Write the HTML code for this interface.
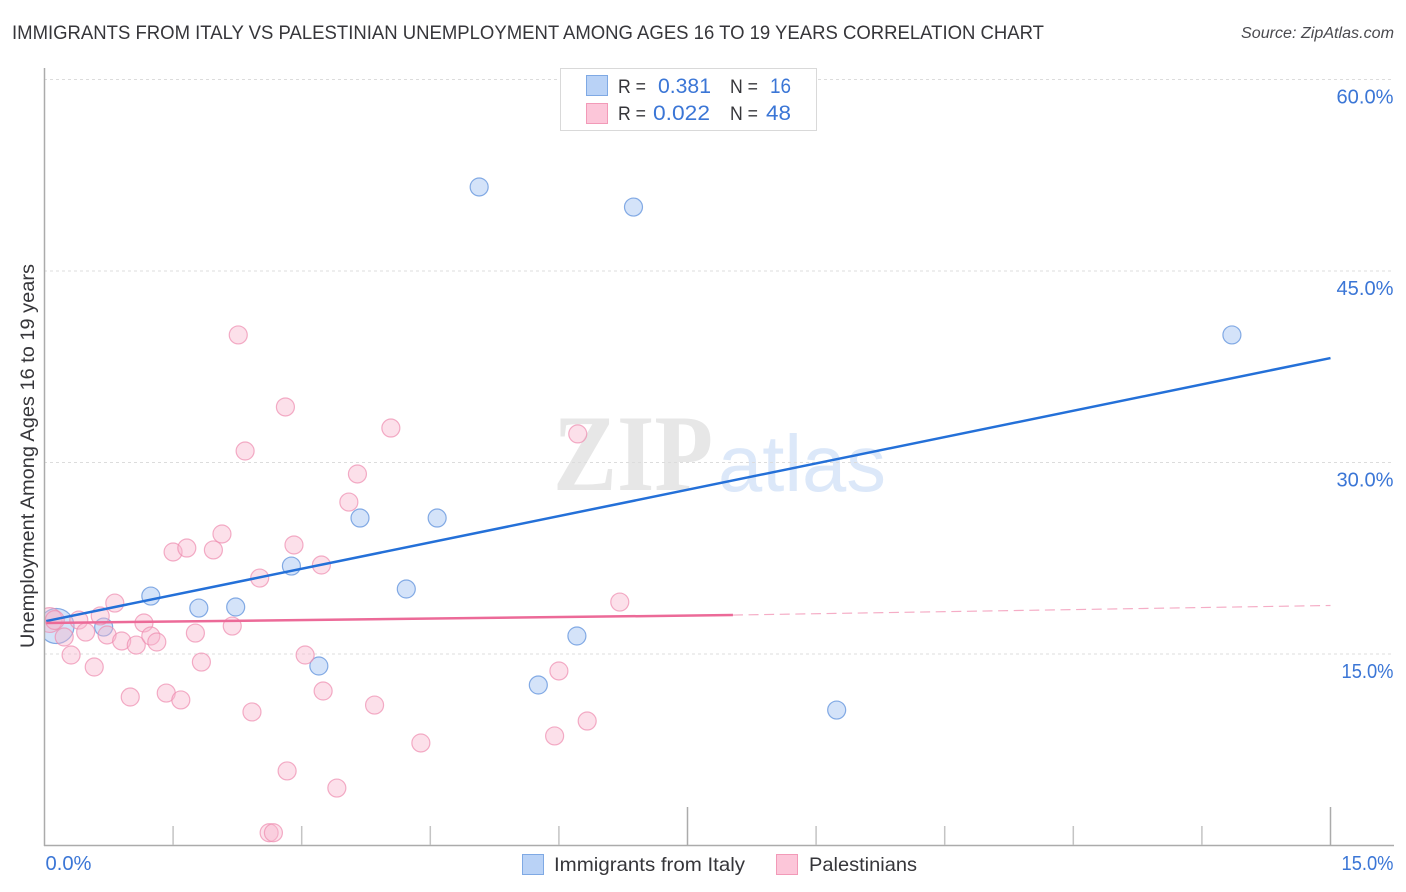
<!DOCTYPE html>
<html lang="en">
<head>
<meta charset="utf-8">
<title>Immigrants from Italy vs Palestinian Unemployment Correlation Chart</title>
<style>
html,body{margin:0;padding:0;background:#fff;width:1406px;height:892px;overflow:hidden}
svg{display:block;font-family:"Liberation Sans",sans-serif}
</style>
</head>
<body>
<svg id="chart" width="1406" height="892" viewBox="0 0 1406 892">
  <defs>
    <clipPath id="plot-clip"><rect x="44" y="60" width="1350" height="786"/></clipPath>
  </defs>
  <text x="12" y="39" font-size="19.5" fill="#36363a" textLength="1032" lengthAdjust="spacingAndGlyphs">IMMIGRANTS FROM ITALY VS PALESTINIAN UNEMPLOYMENT AMONG AGES 16 TO 19 YEARS CORRELATION CHART</text>
  <text x="1241" y="38" font-size="15.5" font-style="italic" fill="#4a4a4f" textLength="153" lengthAdjust="spacingAndGlyphs">Source: ZipAtlas.com</text>

  <g>
    <text x="553" y="490" font-family="'Liberation Serif',serif" font-weight="bold" font-size="109" fill="#e7e7e7" textLength="160" lengthAdjust="spacingAndGlyphs">ZIP</text>
    <text x="718" y="491" font-size="80" fill="#dce8f9" textLength="168" lengthAdjust="spacingAndGlyphs">atlas</text>
  </g>

  <g id="grid"></g>
  <g id="ylabels"></g>
  <g id="points" clip-path="url(#plot-clip)"></g>
  <g id="trends"></g>
  <g id="axes"></g>

  <text transform="translate(34 456) rotate(-90)" font-size="19.5" fill="#36363a" text-anchor="middle" textLength="384" lengthAdjust="spacingAndGlyphs">Unemployment Among Ages 16 to 19 years</text>

  <g>
    <rect x="560.5" y="68.5" width="256" height="62" fill="#fff" stroke="#d9d9d9"/>
    <rect x="586.5" y="75.5" width="21" height="20" fill="#b9d2f6" stroke="#7fa9e4"/>
    <rect x="586.5" y="103.5" width="21" height="20" fill="#fcc6d9" stroke="#f29ab8"/>
    <text x="618" y="93" font-size="19" fill="#36363a" textLength="28" lengthAdjust="spacingAndGlyphs">R =</text>
    <text x="658" y="93" font-size="21" fill="#3b76d6" textLength="53" lengthAdjust="spacingAndGlyphs">0.381</text>
    <text x="730" y="93" font-size="19" fill="#36363a" textLength="28" lengthAdjust="spacingAndGlyphs">N =</text>
    <text x="770" y="93" font-size="21" fill="#3b76d6" textLength="21" lengthAdjust="spacingAndGlyphs">16</text>
    <text x="618" y="120" font-size="19" fill="#36363a" textLength="28" lengthAdjust="spacingAndGlyphs">R =</text>
    <text x="653" y="120" font-size="21" fill="#3b76d6" textLength="57" lengthAdjust="spacingAndGlyphs">0.022</text>
    <text x="730" y="120" font-size="19" fill="#36363a" textLength="28" lengthAdjust="spacingAndGlyphs">N =</text>
    <text x="766" y="120" font-size="21" fill="#3b76d6" textLength="25" lengthAdjust="spacingAndGlyphs">48</text>
  </g>

  <g>
    <g>
      <rect x="522.5" y="854.5" width="21" height="20" fill="#b9d2f6" stroke="#7fa9e4"/>
      <text x="554" y="871" font-size="19.5" fill="#36363a" textLength="191" lengthAdjust="spacingAndGlyphs">Immigrants from Italy</text>
    </g>
    <g>
      <rect x="776.5" y="854.5" width="21" height="20" fill="#fcc6d9" stroke="#f29ab8"/>
      <text x="809" y="871" font-size="19.5" fill="#36363a" textLength="108" lengthAdjust="spacingAndGlyphs">Palestinians</text>
    </g>
  </g>
</svg>
<script>
const yTickValues = [15, 30, 45, 60];
const yTickLabels = ['15.0%', '30.0%', '45.0%', '60.0%'];
const xTickValues = [1.5, 3, 4.5, 6, 7.5, 9, 10.5, 12, 13.5, 15];
const xMajorTicks = [7.5, 15];
const xEndLabels = ['0.0%', '15.0%'];

const italyX = [0.14, 0.69, 1.24, 1.80, 2.23, 2.88, 3.20, 3.68, 4.22, 4.58, 5.07, 5.76, 6.21, 6.87, 9.24, 13.85];
const italyY = [17.19, 17.11, 19.54, 18.6, 18.68, 21.89, 14.06, 25.65, 20.09, 25.65, 51.58, 12.57, 16.41, 50.01, 10.61, 39.99];
const italyWeight = [3.8, 1, 1, 1, 1, 1, 1, 1, 1, 1, 1, 1, 1, 1, 1, 1];

const palestinianX = [0.06, 0.12, 0.23, 0.31, 0.40, 0.48, 0.58, 0.65, 0.73, 0.82, 0.90, 1.00, 1.07, 1.16, 1.24, 1.31, 1.42, 1.50, 1.59, 1.66, 1.76, 1.83, 1.97, 2.07, 2.19, 2.26, 2.34, 2.42, 2.51, 2.62, 2.67, 2.81, 2.83, 2.91, 3.04, 3.23, 3.25, 3.41, 3.55, 3.65, 3.85, 4.04, 4.39, 5.95, 6.00, 6.22, 6.33, 6.71];
const palestinianY = [17.66, 17.66, 16.33, 14.92, 17.66, 16.72, 13.98, 17.98, 16.49, 18.99, 16.02, 11.63, 15.7, 17.43, 16.41, 15.94, 11.94, 22.99, 11.40, 23.3, 16.64, 14.37, 23.15, 24.4, 17.19, 39.99, 30.9, 10.46, 20.95, 1.0, 1.0, 34.35, 5.84, 23.54, 14.92, 21.97, 12.1, 4.5, 26.9, 29.1, 11.0, 32.7, 8.03, 8.58, 13.67, 32.24, 9.75, 19.07];
const palestinianWeight = [1.9, 1.1];

const italyTrendX = [0.02, 15];
const italyTrendY = [17.58, 38.18];
const palestinianTrendX = [0.02, 8.03];
const palestinianTrendY = [17.43, 18.05];
const palestinianExtensionX = [8.03, 15];
const palestinianExtensionY = [18.05, 18.8];

const NS = 'http://www.w3.org/2000/svg';
const xScale = v => 44.5 + v * (1330.5 - 44.5) / 15;
const yScale = v => 845.5 - v * (845.5 - 79.5) / 60;
const baseRadius = 9;
const labelWidth = s => s.charAt(0) === '1' ? 52 : 57;

function make(parent, tag, attrs, text) {
  const el = document.createElementNS(NS, tag);
  for (const k in attrs) el.setAttribute(k, attrs[k]);
  if (text !== undefined) el.textContent = text;
  document.getElementById(parent).appendChild(el);
  return el;
}

yTickValues.forEach((v, i) => {
  const line = make('grid', 'line', {x1: 44, x2: 1394, y1: yScale(v), y2: yScale(v), stroke: '#dcdcdc', 'stroke-width': 1, 'stroke-dasharray': '3 3'});
  
  
  const w = labelWidth(yTickLabels[i]);
  const label = make('ylabels', 'text', {x: 1393.5 - w, y: yScale(v) + 24, 'font-size': 20, fill: '#3b76d6', textLength: w, lengthAdjust: 'spacingAndGlyphs'}, yTickLabels[i]);
  
  
});

italyX.forEach((v, i) => {
  const c = make('points', 'circle', {cx: xScale(v), cy: yScale(italyY[i]), r: baseRadius * Math.sqrt(italyWeight[i]), fill: 'rgba(170,200,243,0.5)', stroke: 'rgba(95,145,220,0.75)', 'stroke-width': 1.2});
  
  
});

palestinianX.forEach((v, i) => {
  const w = palestinianWeight[i] || 1;
  const c = make('points', 'circle', {cx: xScale(v), cy: yScale(palestinianY[i]), r: baseRadius * Math.sqrt(w), fill: 'rgba(248,180,205,0.42)', stroke: 'rgba(238,140,175,0.7)', 'stroke-width': 1.2});
  
  
});

const italyTrend = make('trends', 'line', {x1: xScale(italyTrendX[0]), y1: yScale(italyTrendY[0]), x2: xScale(italyTrendX[1]), y2: yScale(italyTrendY[1]), stroke: '#2470d8', 'stroke-width': 2.5});



const palTrend = make('trends', 'line', {x1: xScale(palestinianTrendX[0]), y1: yScale(palestinianTrendY[0]), x2: xScale(palestinianTrendX[1]), y2: yScale(palestinianTrendY[1]), stroke: '#ec6a98', 'stroke-width': 2.5});



const palExt = make('trends', 'line', {x1: xScale(palestinianExtensionX[0]), y1: yScale(palestinianExtensionY[0]), x2: xScale(palestinianExtensionX[1]), y2: yScale(palestinianExtensionY[1]), stroke: '#ec6a98', 'stroke-width': 1.2, 'stroke-opacity': 0.55, 'stroke-dasharray': '10 5.6'});



const yAxis = make('axes', 'line', {x1: 44.5, x2: 44.5, y1: 68, y2: 846, stroke: '#ababab', 'stroke-width': 1.5});


const xAxis = make('axes', 'line', {x1: 44, x2: 1394, y1: 845.5, y2: 845.5, stroke: '#ababab', 'stroke-width': 1.5});



xTickValues.forEach(v => {
  const major = xMajorTicks.includes(v);
  const t = make('axes', 'line', {x1: xScale(v), x2: xScale(v), y1: major ? 807 : 826, y2: 845, stroke: major ? '#ababab' : '#c4c4c4', 'stroke-width': 1.5});
  
  
});

const xMin = make('axes', 'text', {x: 45.5, y: 870, 'font-size': 20, fill: '#3b76d6', textLength: 46, lengthAdjust: 'spacingAndGlyphs'}, xEndLabels[0]);


const xMax = make('axes', 'text', {x: 1341.5, y: 870, 'font-size': 20, fill: '#3b76d6', textLength: 52, lengthAdjust: 'spacingAndGlyphs'}, xEndLabels[1]);


</script>
</body>
</html>
